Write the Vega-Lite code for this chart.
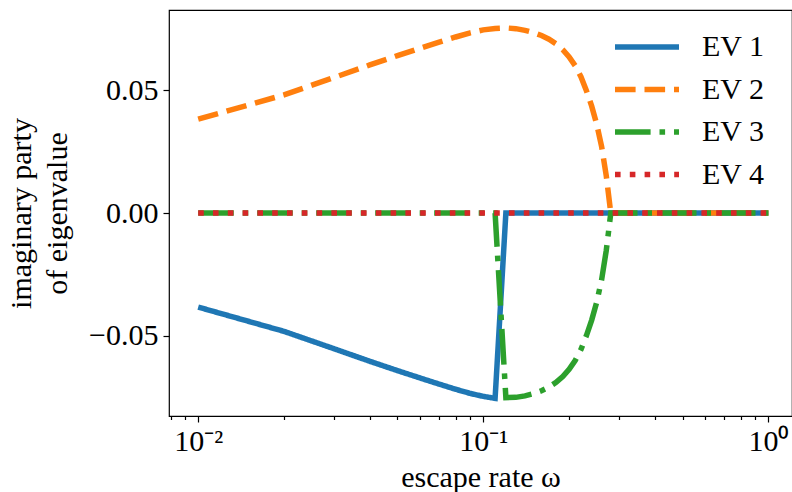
{
  "$schema": "https://vega.github.io/schema/vega-lite/v6.json",
  "width": 623,
  "height": 406,
  "autosize": {"type": "none"},
  "padding": {"left": 169, "top": 10, "right": 0, "bottom": 76},
  "background": "white",
  "config": {
    "view": {"stroke": "black", "strokeWidth": 1.2},
    "font": "Liberation Serif",
    "axis": {
      "domain": false,
      "grid": false,
      "tickColor": "black",
      "tickWidth": 1.2,
      "labelColor": "black",
      "labelFont": "Liberation Serif",
      "labelFontSize": 30,
      "titleFont": "Liberation Serif",
      "titleFontSize": 30,
      "titleFontWeight": "normal",
      "titleColor": "black"
    },
    "legend": {
      "labelFont": "Liberation Serif",
      "labelFontSize": 30,
      "labelColor": "black"
    }
  },
  "data": {
    "values": [
      {"omega": 0.01, "imag": -0.0383, "series": "EV 1"},
      {"omega": 0.02, "imag": -0.0482, "series": "EV 1"},
      {"omega": 0.03, "imag": -0.0553, "series": "EV 1"},
      {"omega": 0.04, "imag": -0.0604, "series": "EV 1"},
      {"omega": 0.05, "imag": -0.0642, "series": "EV 1"},
      {"omega": 0.06, "imag": -0.0672, "series": "EV 1"},
      {"omega": 0.07, "imag": -0.0697, "series": "EV 1"},
      {"omega": 0.08, "imag": -0.0718, "series": "EV 1"},
      {"omega": 0.09, "imag": -0.0735, "series": "EV 1"},
      {"omega": 0.10, "imag": -0.0747, "series": "EV 1"},
      {"omega": 0.11, "imag": -0.0755, "series": "EV 1"},
      {"omega": 0.12, "imag": 0.0, "series": "EV 1"},
      {"omega": 1.0, "imag": 0.0, "series": "EV 1"},

      {"omega": 0.01, "imag": 0.0383, "series": "EV 2"},
      {"omega": 0.02, "imag": 0.0482, "series": "EV 2"},
      {"omega": 0.03, "imag": 0.0553, "series": "EV 2"},
      {"omega": 0.04, "imag": 0.0604, "series": "EV 2"},
      {"omega": 0.05, "imag": 0.0642, "series": "EV 2"},
      {"omega": 0.06, "imag": 0.0672, "series": "EV 2"},
      {"omega": 0.07, "imag": 0.0697, "series": "EV 2"},
      {"omega": 0.08, "imag": 0.0718, "series": "EV 2"},
      {"omega": 0.09, "imag": 0.0735, "series": "EV 2"},
      {"omega": 0.10, "imag": 0.0747, "series": "EV 2"},
      {"omega": 0.11, "imag": 0.0753, "series": "EV 2"},
      {"omega": 0.12, "imag": 0.0755, "series": "EV 2"},
      {"omega": 0.13, "imag": 0.0752, "series": "EV 2"},
      {"omega": 0.14, "imag": 0.0745, "series": "EV 2"},
      {"omega": 0.15, "imag": 0.0736, "series": "EV 2"},
      {"omega": 0.16, "imag": 0.0724, "series": "EV 2"},
      {"omega": 0.17, "imag": 0.0709, "series": "EV 2"},
      {"omega": 0.18, "imag": 0.0690, "series": "EV 2"},
      {"omega": 0.19, "imag": 0.0666, "series": "EV 2"},
      {"omega": 0.20, "imag": 0.0637, "series": "EV 2"},
      {"omega": 0.21, "imag": 0.0601, "series": "EV 2"},
      {"omega": 0.22, "imag": 0.0556, "series": "EV 2"},
      {"omega": 0.23, "imag": 0.0499, "series": "EV 2"},
      {"omega": 0.24, "imag": 0.0436, "series": "EV 2"},
      {"omega": 0.25, "imag": 0.0362, "series": "EV 2"},
      {"omega": 0.26, "imag": 0.0272, "series": "EV 2"},
      {"omega": 0.27, "imag": 0.0152, "series": "EV 2"},
      {"omega": 0.28, "imag": 0.0, "series": "EV 2"},
      {"omega": 1.0, "imag": 0.0, "series": "EV 2"},

      {"omega": 0.01, "imag": 0.0, "series": "EV 3"},
      {"omega": 0.11, "imag": 0.0, "series": "EV 3"},
      {"omega": 0.12, "imag": -0.0752, "series": "EV 3"},
      {"omega": 0.13, "imag": -0.0751, "series": "EV 3"},
      {"omega": 0.14, "imag": -0.0745, "series": "EV 3"},
      {"omega": 0.15, "imag": -0.0736, "series": "EV 3"},
      {"omega": 0.16, "imag": -0.0724, "series": "EV 3"},
      {"omega": 0.17, "imag": -0.0709, "series": "EV 3"},
      {"omega": 0.18, "imag": -0.0690, "series": "EV 3"},
      {"omega": 0.19, "imag": -0.0666, "series": "EV 3"},
      {"omega": 0.20, "imag": -0.0637, "series": "EV 3"},
      {"omega": 0.21, "imag": -0.0601, "series": "EV 3"},
      {"omega": 0.22, "imag": -0.0556, "series": "EV 3"},
      {"omega": 0.23, "imag": -0.0499, "series": "EV 3"},
      {"omega": 0.24, "imag": -0.0436, "series": "EV 3"},
      {"omega": 0.25, "imag": -0.0362, "series": "EV 3"},
      {"omega": 0.26, "imag": -0.0272, "series": "EV 3"},
      {"omega": 0.27, "imag": -0.0152, "series": "EV 3"},
      {"omega": 0.28, "imag": 0.0, "series": "EV 3"},
      {"omega": 1.0, "imag": 0.0, "series": "EV 3"},

      {"omega": 0.01, "imag": 0.0, "series": "EV 4"},
      {"omega": 1.0, "imag": 0.0, "series": "EV 4"}
    ]
  },
  "mark": {"type": "line", "strokeWidth": 5.5, "clip": true},
  "encoding": {
    "x": {
      "field": "omega",
      "type": "quantitative",
      "scale": {"type": "log", "domain": [0.0079, 1.21], "nice": false},
      "axis": {
        "title": "escape rate ω",
        "values": [0.008, 0.009, 0.01, 0.02, 0.03, 0.04, 0.05, 0.06, 0.07, 0.08, 0.09, 0.1, 0.2, 0.3, 0.4, 0.5, 0.6, 0.7, 0.8, 0.9, 1],
        "labelExpr": "datum.value == 0.01 ? '10⁻²' : (datum.value == 0.1 ? '10⁻¹' : (datum.value == 1 ? '10⁰' : ''))",
        "labelOverlap": false,
        "labelFlush": false,
        "labelBound": false,
        "labelPadding": 4,
        "tickSize": {"condition": {"test": "datum.value == 0.01 || datum.value == 0.1 || datum.value == 1", "value": 6}, "value": 3.5},
        "titlePadding": 6
      }
    },
    "y": {
      "field": "imag",
      "type": "quantitative",
      "scale": {"domain": [-0.0827, 0.0828], "nice": false, "zero": false},
      "axis": {
        "title": ["imaginary party", "of eigenvalue"],
        "values": [-0.05, 0, 0.05],
        "format": ".2f",
        "tickSize": 6,
        "labelPadding": 5,
        "titlePadding": 16,
        "titleLineHeight": 36
      }
    },
    "color": {
      "field": "series",
      "type": "nominal",
      "scale": {"domain": ["EV 1", "EV 2", "EV 3", "EV 4"], "range": ["#1f77b4", "#ff7f0e", "#2ca02c", "#d62728"]},
      "legend": {
        "title": null,
        "orient": "none",
        "legendX": 459,
        "legendY": 18,
        "symbolType": "M-2,0H2",
        "symbolSize": 1024,
        "symbolStrokeWidth": 5.5,
        "labelOffset": 36,
        "rowPadding": 8.5
      }
    },
    "strokeDash": {
      "field": "series",
      "type": "nominal",
      "scale": {"domain": ["EV 1", "EV 2", "EV 3", "EV 4"], "range": [[1, 0], [20.6, 8.9], [35.6, 8.9, 5.6, 8.9], [5.6, 9.2]]},
      "legend": {
        "title": null,
        "orient": "none",
        "legendX": 459,
        "legendY": 18,
        "symbolType": "M-2,0H2",
        "symbolSize": 1024,
        "symbolStrokeWidth": 5.5,
        "labelOffset": 36,
        "rowPadding": 8.5
      }
    }
  }
}
